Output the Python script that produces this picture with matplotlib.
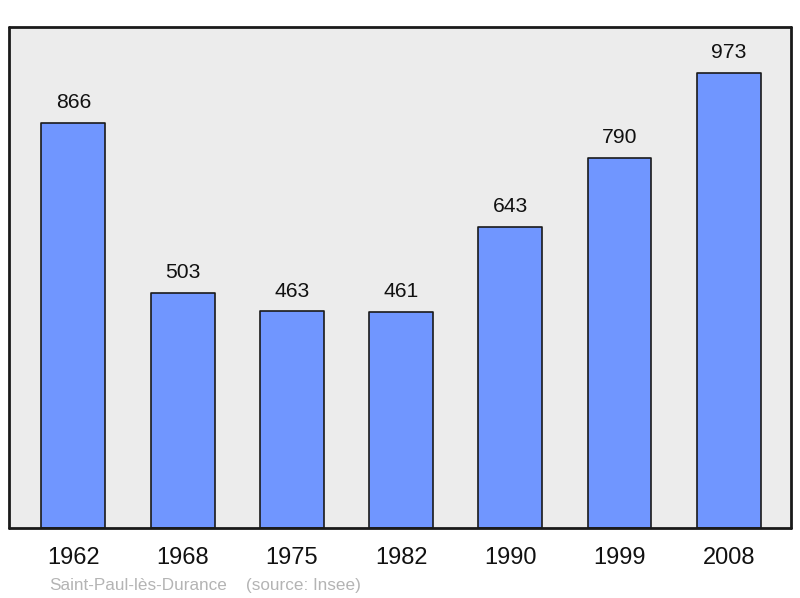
import matplotlib.pyplot as plt

# population data
years = ['1962', '1968', '1975', '1982', '1990', '1999', '2008']
population = [866, 503, 463, 461, 643, 790, 973]
town = 'Saint-Paul-lès-Durance'
source = '(source: Insee)'

plt.rcParams['font.family'] = ['Liberation Sans', 'DejaVu Sans']

fig = plt.figure(figsize=(8, 5.98), dpi=100)
ax = fig.add_axes([9 / 800, 1 - 528 / 598, 782 / 800, 501 / 598])
ax.set_facecolor('#ececec')

x = range(len(years))
bars = ax.bar(x, population, width=0.585, color='#7096ff',
              edgecolor='#1a1a1a', linewidth=1.2)
for b in bars:
    b.set_joinstyle('round')

# value labels above bars
for i, v in zip(x, population):
    ax.annotate(str(v), xy=(i, v), xytext=(0, 10.6), textcoords='offset points',
                ha='center', va='baseline', fontsize=15.2, color='#111111')

ax.set_xlim(-0.59, len(years) - 1 + 0.57)
ax.set_ylim(0, max(population) * 1.1)
ax.set_yticks([])
ax.set_xticks(list(x))
ax.set_xticklabels(years, fontsize=17)
ax.tick_params(axis='x', length=0, pad=13.5, colors='#111111')

for s in ax.spines.values():
    s.set_linewidth(2)
    s.set_color('#1a1a1a')
    s.set_joinstyle('round')
    s.set_capstyle('round')

fig.text(49 / 800, 1 - 590 / 598, town, fontsize=12.3, color='#b4b4b4', va='baseline')
fig.text(246 / 800, 1 - 590 / 598, source, fontsize=12.3, color='#b4b4b4', va='baseline')

fig.savefig('out.png', dpi=100)
